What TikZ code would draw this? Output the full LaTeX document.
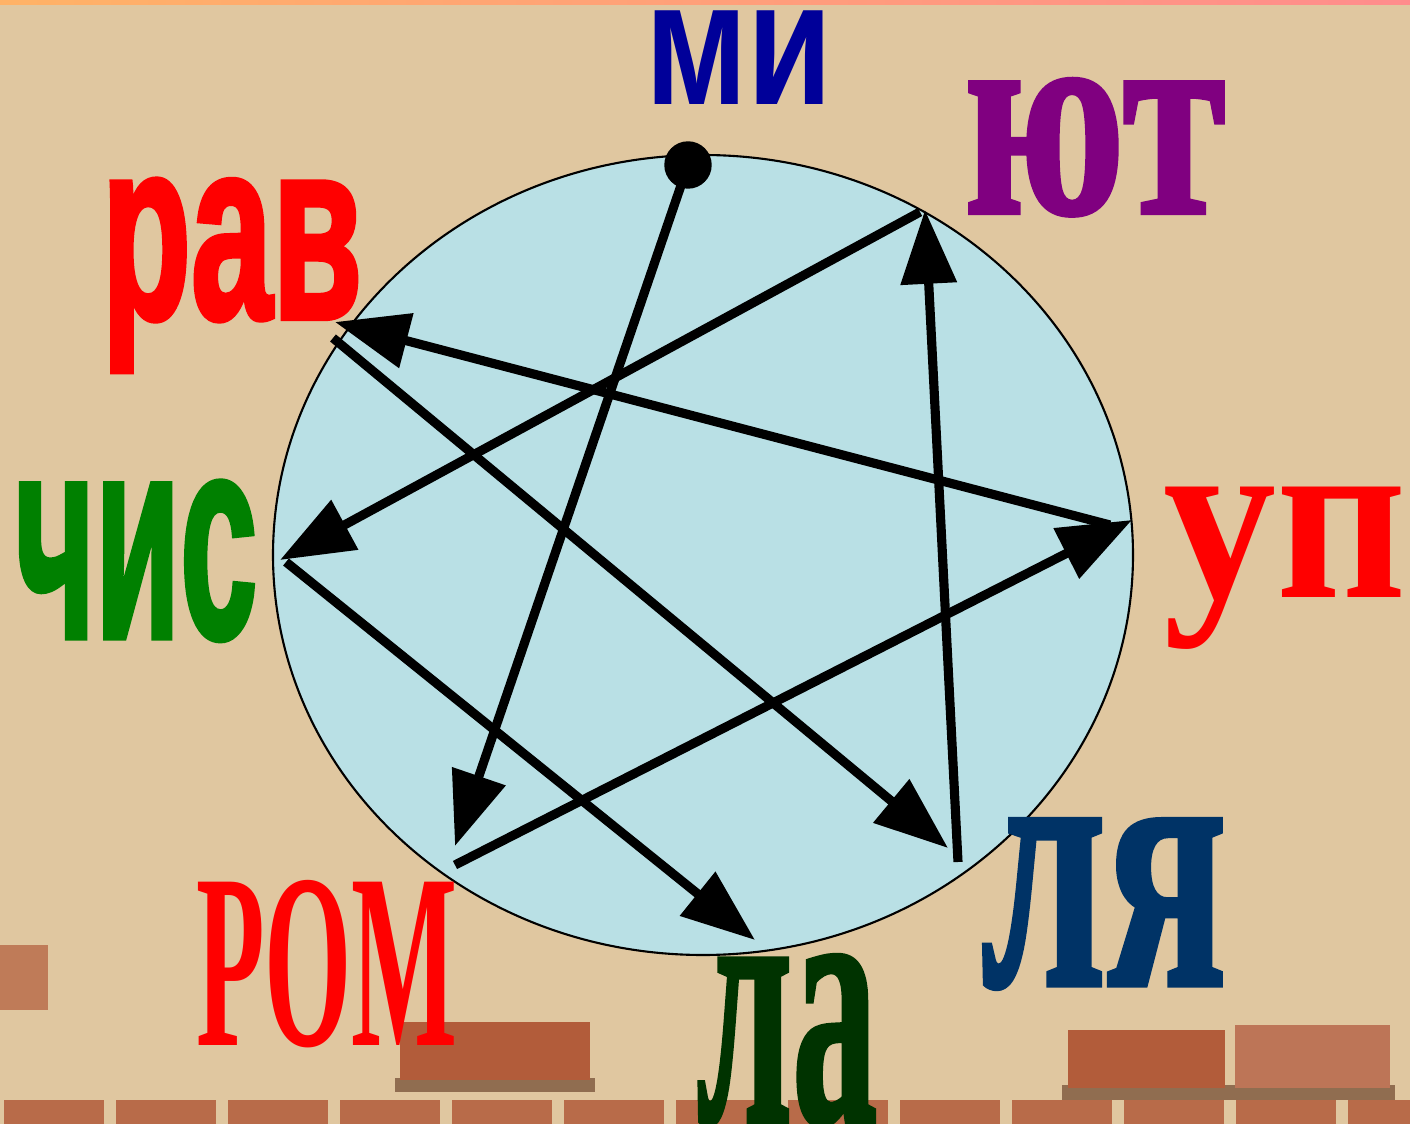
\documentclass[tikz,border=0pt]{standalone}
\usepackage{fontspec}
\usetikzlibrary{arrows.meta}
\newfontfamily\lsans{Liberation Sans}[BoldFeatures={FakeBold=2.5}]
\newfontfamily\lsansb{Liberation Sans}
\newfontfamily\lserif{Liberation Serif}[BoldFeatures={FakeBold=1.5}]
\newfontfamily\lserifb{Liberation Serif}
\definecolor{paper}{RGB}{224,199,160}
\definecolor{disc}{RGB}{185,224,229}
\definecolor{brick}{RGB}{178,92,58}
\definecolor{mortar}{RGB}{92,50,28}
\definecolor{miblue}{RGB}{0,0,153}
\definecolor{yutpurple}{RGB}{128,0,128}
\definecolor{chisgreen}{RGB}{0,128,0}
\definecolor{ladark}{RGB}{0,51,0}
\definecolor{lyanavy}{RGB}{0,51,102}
\begin{document}
\begin{tikzpicture}[x=0.02cm,y=-0.02cm,
    syl/.style={inner sep=0pt,anchor=base,text height=.7em,text depth=0pt},
    arr/.style={line width=5.2pt,-{Triangle[length=42pt,width=31pt]}}]
    \useasboundingbox (0,0) rectangle (1410,1124);
    \fill[paper] (0,0) rectangle (1410,1124);
    % bricks
    \fill[brick,opacity=.7] (0,945) rectangle (48,1010);
    \fill[mortar,opacity=.6] (395,1078) rectangle (595,1092);
    \fill[brick] (400,1022) rectangle (590,1080);
    \fill[mortar,opacity=.6] (1062,1085) rectangle (1395,1100);
    \fill[brick] (1068,1030) rectangle (1225,1088);
    \fill[brick!85!white] (1235,1025) rectangle (1390,1088);
    \foreach \i in {0,...,12}
    {
    \fill[brick,opacity=.85] (\i*112+4,1100) rectangle (\i*112+104,1124);
    }
    \shade[left color=orange!60,middle color=yellow!80,right color=red!45] (0,0) rectangle (1410,5);
    \draw[fill=disc,line width=1.2pt] (703,555) ellipse [x radius=430,y radius=400];
    % syllables
    \node[syl,text=miblue,xscale=.78] (mi-t) at (739,105) {\lsansb\bfseries\fontsize{101}{101}\selectfont ми};
    \node[syl,text=yutpurple,xscale=.74] (yut-t) at (1095,213) {\lserif\bfseries\fontsize{162}{162}\selectfont ют};
    \node[syl,text=red,xscale=.57] (rav-t) at (232,318) {\lsans\bfseries\fontsize{146}{146}\selectfont рав};
    \node[syl,text=chisgreen,xscale=.48] (chis-t) at (136,637) {\lsans\bfseries\fontsize{164}{164}\selectfont чис};
    \node[syl,text=red,xscale=.94] (up-t) at (1285,598) {\lserifb\bfseries\fontsize{137}{137}\selectfont уп};
    \node[syl,text=red,xscale=.45] (rom-t) at (327,1045) {\lserifb\bfseries\fontsize{142}{142}\selectfont РОМ};
    \node[syl,text=ladark,xscale=.48] (la-t) at (787,1122) {\lserif\bfseries\fontsize{202}{202}\selectfont ла};
    \node[syl,text=lyanavy,xscale=.62] (lya-t) at (1104,985) {\lserif\bfseries\fontsize{205}{205}\selectfont ля};
    % ends of the arrows
    \node[circle,fill,inner sep=0pt,minimum size=27pt] (mi) at (688,165) {};
    \coordinate (rom-in) at (455,846);
    \coordinate (rom-out) at (455,865);
    \coordinate (up-in) at (1132,520);
    \coordinate (up-out) at (1110,525);
    \coordinate (rav-in) at (335,322);
    \coordinate (rav-out) at (333,338);
    \coordinate (lya-in) at (948,848);
    \coordinate (lya-out) at (958,862);
    \coordinate (yut-in) at (925,210);
    \coordinate (yut-out) at (920,212);
    \coordinate (chis-in) at (280,560);
    \coordinate (chis-out) at (286,562);
    \coordinate (la-in) at (755,940);
    \draw[arr] (mi.center) -- (rom-in);
    \draw[arr] (rom-out) -- (up-in);
    \draw[arr] (up-out) -- (rav-in);
    \draw[arr] (rav-out) -- (lya-in);
    \draw[arr] (lya-out) -- (yut-in);
    \draw[arr] (yut-out) -- (chis-in);
    \draw[arr] (chis-out) -- (la-in);
\end{tikzpicture}
\end{document}
